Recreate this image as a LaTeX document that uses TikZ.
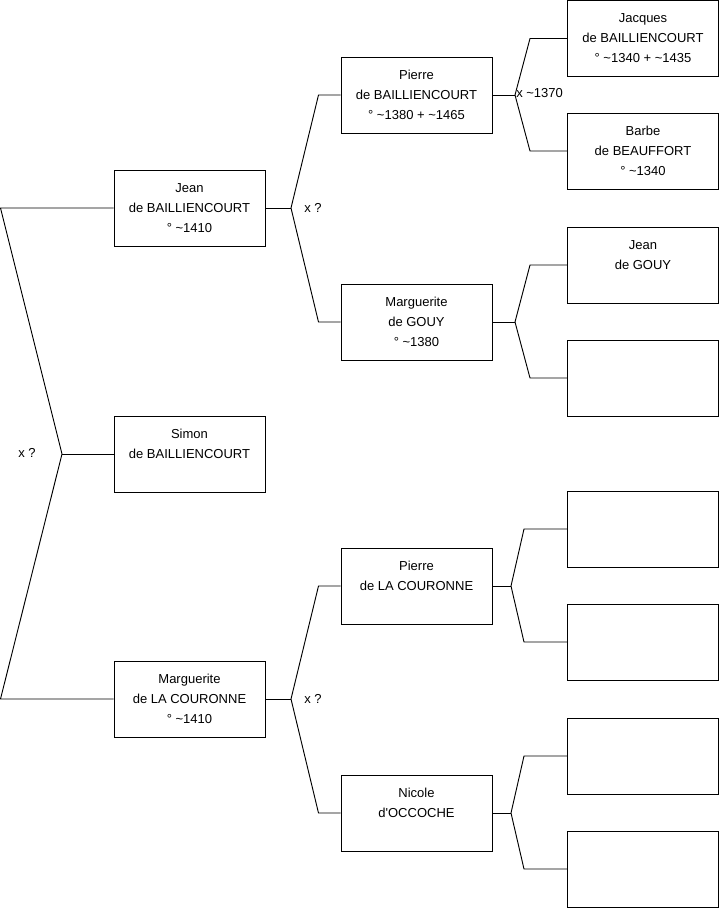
\documentclass[tikz,border=0pt]{standalone}
\usepackage{fontspec}
\setmainfont{Liberation Sans}
\newcommand{\abt}{\textasciitilde}
\tikzset{
    % Boxes of the family tree
    personbox/.style={
        rectangle,
        draw=black,
        line width=0.75pt,
        minimum width=113.25pt,
        minimum height=57pt,
        inner sep=0pt,
        align=center,
        font=\fontsize{9.75}{15}\selectfont
    },
    % Forks between a child and its parents
    forkline/.style={
        draw=black,
        line width=0.7pt
    },
    % Marriage labels
    marriage/.style={
        anchor=west,
        inner sep=0pt,
        font=\fontsize{9.75}{12}\selectfont
    }
}

\begin{document}
\begin{tikzpicture}[x=0.75pt, y=-0.75pt]
    \useasboundingbox (0,0) rectangle (719,908);

    % Generation 1
    \node[personbox] (simon) at (189.5,454) {Simon\\de BAILLIENCOURT\\\vphantom{1}};

    % Generation 2
    \node[personbox] (jean) at (189.5,208) {Jean\\de BAILLIENCOURT\\° \abt1410};
    \node[personbox] (margLC) at (189.5,699) {Marguerite\\de LA COURONNE\\° \abt1410};

    % Generation 3
    \node[personbox] (pierreB) at (416.5,95) {Pierre\\de BAILLIENCOURT\\° \abt1380 + \abt1465};
    \node[personbox] (margG) at (416.5,322) {Marguerite\\de GOUY\\° \abt1380};
    \node[personbox] (pierreLC) at (416.5,586) {Pierre\\de LA COURONNE\\\vphantom{1}};
    \node[personbox] (nicole) at (416.5,813) {Nicole\\d\textquotesingle OCCOCHE\\\vphantom{1}};

    % Generation 4
    \node[personbox] (jacques) at (643,38.5) {Jacques\\de BAILLIENCOURT\\° \abt1340 + \abt1435};
    \node[personbox] (barbe) at (643,151) {Barbe\\de BEAUFFORT\\° \abt1340};
    \node[personbox] (jeanG) at (643,265) {Jean\\de GOUY\\\vphantom{1}};
    \node[personbox] (unknownA) at (643,378) {};
    \node[personbox] (unknownB) at (643,529) {};
    \node[personbox] (unknownC) at (643,642) {};
    \node[personbox] (unknownD) at (643,756) {};
    \node[personbox] (unknownE) at (643,869) {};

    % Fork points
    \coordinate (fSimon) at (62,454);
    \coordinate (fJean) at (291,208);
    \coordinate (fMargLC) at (291,699);
    \coordinate (fPierreB) at (515,95);
    \coordinate (fMargG) at (515,322);
    \coordinate (fPierreLC) at (511,586);
    \coordinate (fNicole) at (511,813);

    % Forks
    \draw[forkline] (simon.west) -- (fSimon);
    \draw[forkline] (jean.west) -- ++(-113,0) -- (fSimon);
    \draw[forkline] (margLC.west) -- ++(-113,0) -- (fSimon);

    \draw[forkline] (jean.east) -- (fJean);
    \draw[forkline] (pierreB.west) -- ++(-22,0) -- (fJean);
    \draw[forkline] (margG.west) -- ++(-22,0) -- (fJean);

    \draw[forkline] (margLC.east) -- (fMargLC);
    \draw[forkline] (pierreLC.west) -- ++(-22,0) -- (fMargLC);
    \draw[forkline] (nicole.west) -- ++(-22,0) -- (fMargLC);

    \draw[forkline] (pierreB.east) -- (fPierreB);
    \draw[forkline] (jacques.west) -- ++(-37,0) -- (fPierreB);
    \draw[forkline] (barbe.west) -- ++(-37,0) -- (fPierreB);

    \draw[forkline] (margG.east) -- (fMargG);
    \draw[forkline] (jeanG.west) -- ++(-37,0) -- (fMargG);
    \draw[forkline] (unknownA.west) -- ++(-37,0) -- (fMargG);

    \draw[forkline] (pierreLC.east) -- (fPierreLC);
    \draw[forkline] (unknownB.west) -- ++(-43,0) -- (fPierreLC);
    \draw[forkline] (unknownC.west) -- ++(-43,0) -- (fPierreLC);

    \draw[forkline] (nicole.east) -- (fNicole);
    \draw[forkline] (unknownD.west) -- ++(-43,0) -- (fNicole);
    \draw[forkline] (unknownE.west) -- ++(-43,0) -- (fNicole);

    % Marriages
    \node[marriage] (mSimon) at (18,453) {x ?};
    \node[marriage] (mJean) at (304,208) {x ?};
    \node[marriage] (mMargLC) at (304,699) {x ?};
    \node[marriage] (mPierreB) at (516,93) {x \abt1370};
\end{tikzpicture}
\end{document}
